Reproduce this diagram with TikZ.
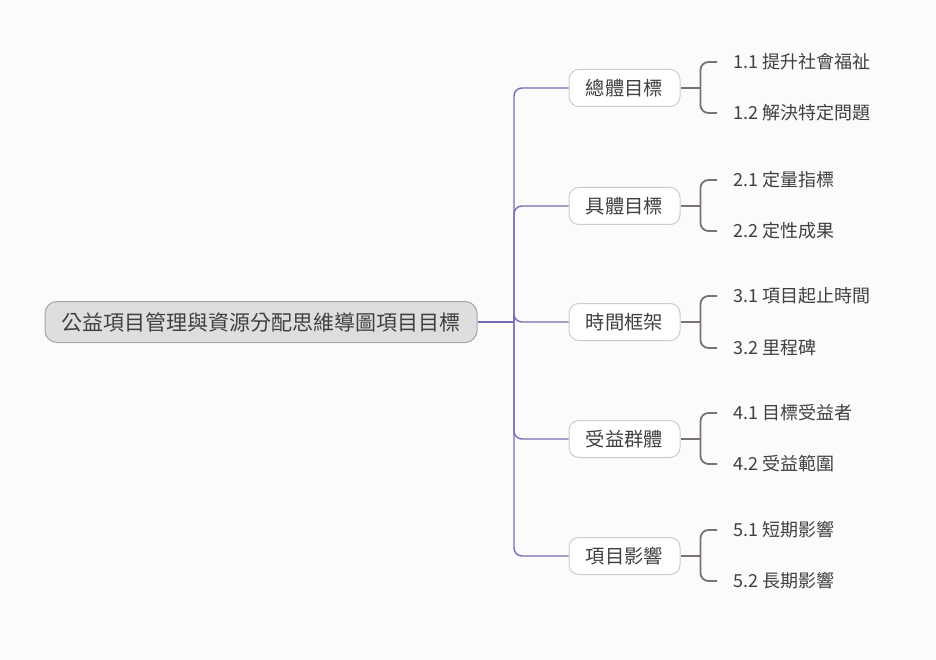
\documentclass[tikz,border=0pt]{standalone}
\usepackage{fontspec}
\setmainfont{Noto Sans CJK TC}
\usepackage{xcolor}
\definecolor{trunkc}{RGB}{118,108,182}
\definecolor{twigc}{RGB}{122,114,110}
\definecolor{textc}{RGB}{64,64,64}
\definecolor{bgc}{RGB}{251,251,251}

\begin{document}
\begin{tikzpicture}[x=1pt,y=-1pt,
  rootbox/.style={draw=black!35,fill=black!13,rounded corners=12pt,line width=1pt,
    minimum width=432pt,minimum height=41pt,text=textc,font=\fontsize{21}{22}\selectfont},
  topicbox/.style={draw=black!20,fill=white,rounded corners=10pt,line width=1pt,
    minimum width=111pt,minimum height=37pt,text=textc,font=\fontsize{19.3}{20}\selectfont},
  leaf/.style={anchor=west,inner xsep=16pt,text=textc,font=\fontsize{18}{19}\selectfont},
  trunk/.style={draw=trunkc,line width=1.4pt,rounded corners=8pt},
  twig/.style={draw=twigc,line width=1.8pt,rounded corners=8pt}]
\fill[bgc] (0,0) rectangle (936,660);
\useasboundingbox (0,0) rectangle (936,660);

\node[rootbox] (root) at (261,322) {公益項目管理與資源分配思維導圖項目目標};
\coordinate (hub) at (514,322);

\node[topicbox] (t1) at (624.5,88) {總體目標};
\node[topicbox] (t2) at (624.5,206) {具體目標};
\node[topicbox] (t3) at (624.5,322) {時間框架};
\node[topicbox] (t4) at (624.5,439) {受益群體};
\node[topicbox] (t5) at (624.5,556) {項目影響};

\node[leaf] (l11) at (717,62) {1.1 提升社會福祉};
\node[leaf] (l12) at (717,113) {1.2 解決特定問題};
\node[leaf] (l21) at (717,180) {2.1 定量指標};
\node[leaf] (l22) at (717,231) {2.2 定性成果};
\node[leaf] (l31) at (717,296) {3.1 項目起止時間};
\node[leaf] (l32) at (717,348) {3.2 里程碑};
\node[leaf] (l41) at (717,413) {4.1 目標受益者};
\node[leaf] (l42) at (717,464) {4.2 受益範圍};
\node[leaf] (l51) at (717,530) {5.1 短期影響};
\node[leaf] (l52) at (717,581) {5.2 長期影響};

% root to topics
\draw[trunk] (root.east) -- (hub);
\foreach \t in {t1,t2,t3,t4,t5}
  \draw[trunk] (hub) |- (\t.west);

% topics to leaves
\foreach \t/\a/\b in {t1/l11/l12,t2/l21/l22,t3/l31/l32,t4/l41/l42,t5/l51/l52}{
  \coordinate (j\t) at ([xshift=20pt]\t.east);
  \draw[twig] (\t.east) -- (j\t);
  \draw[twig] (j\t) |- (\a.west);
  \draw[twig] (j\t) |- (\b.west);
}
\end{tikzpicture}
\end{document}
